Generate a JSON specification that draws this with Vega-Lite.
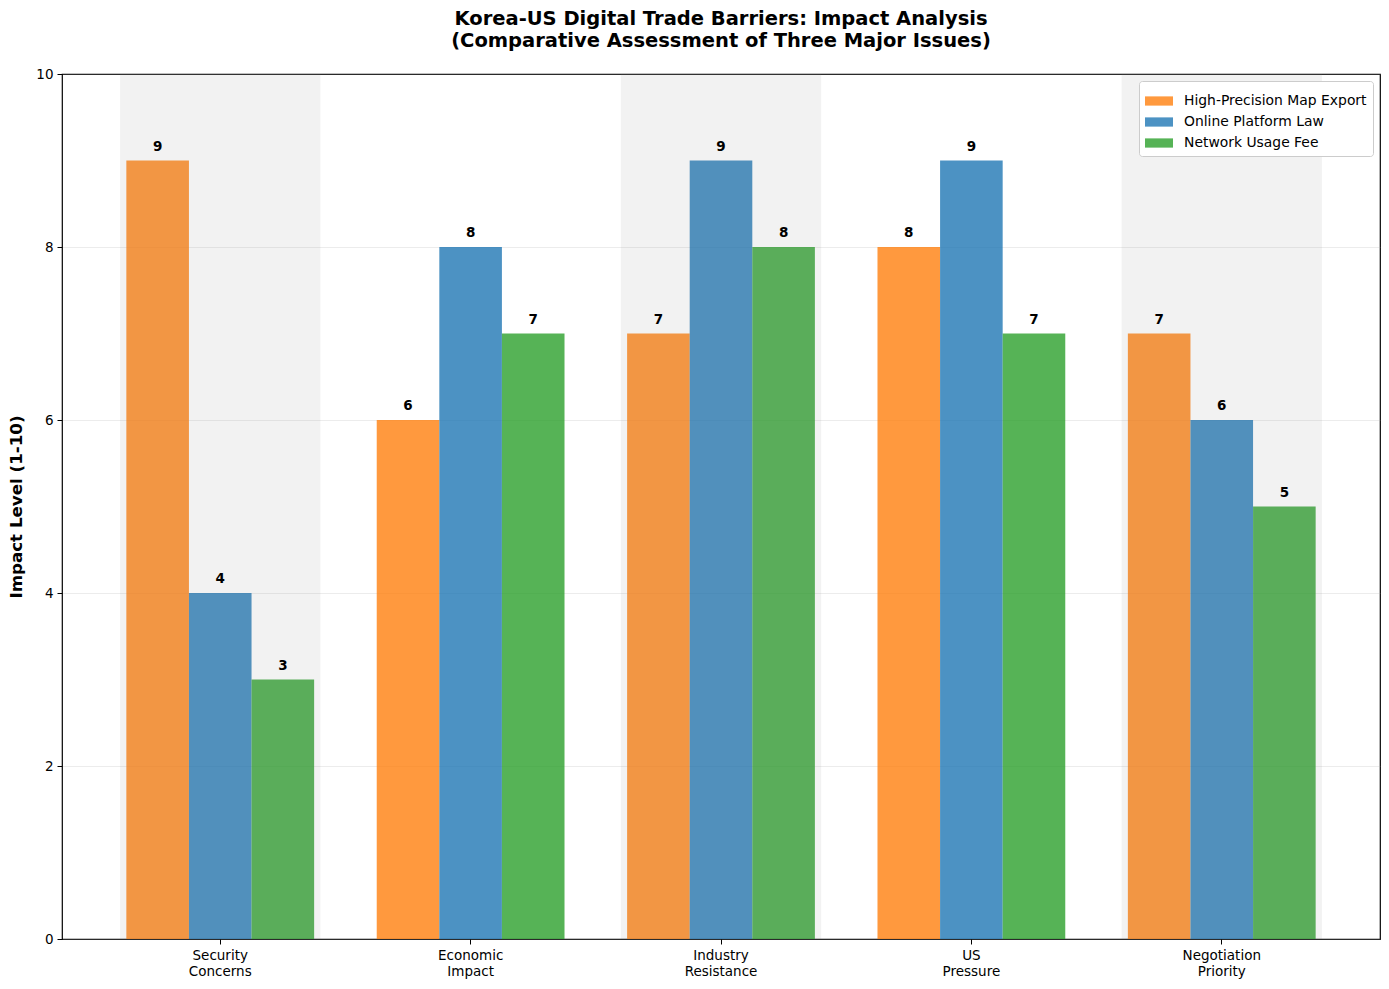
{
  "$schema": "https://vega.github.io/schema/vega-lite/v6.json",
  "autosize": "none",
  "width": 1318,
  "height": 865,
  "padding": {"left": 62, "top": 74, "right": 9, "bottom": 50},
  "background": "white",
  "config": {
    "font": "DejaVu Sans",
    "view": {"stroke": "black", "strokeWidth": 1.2},
    "axis": {"labelFont": "DejaVu Sans", "titleFont": "DejaVu Sans", "labelColor": "black", "tickColor": "black", "domainColor": "black", "titleColor": "black"}
  },
  "title": {
    "text": ["Korea-US Digital Trade Barriers: Impact Analysis", "(Comparative Assessment of Three Major Issues)"],
    "font": "DejaVu Sans",
    "fontSize": 19.5,
    "fontWeight": "bold",
    "lineHeight": 22,
    "offset": 16,
    "color": "black",
    "anchor": "middle"
  },
  "data": {
    "values": [
      {"category": "Security Concerns", "issue": "High-Precision Map Export", "value": 9},
      {"category": "Security Concerns", "issue": "Online Platform Law", "value": 4},
      {"category": "Security Concerns", "issue": "Network Usage Fee", "value": 3},
      {"category": "Economic Impact", "issue": "High-Precision Map Export", "value": 6},
      {"category": "Economic Impact", "issue": "Online Platform Law", "value": 8},
      {"category": "Economic Impact", "issue": "Network Usage Fee", "value": 7},
      {"category": "Industry Resistance", "issue": "High-Precision Map Export", "value": 7},
      {"category": "Industry Resistance", "issue": "Online Platform Law", "value": 9},
      {"category": "Industry Resistance", "issue": "Network Usage Fee", "value": 8},
      {"category": "US Pressure", "issue": "High-Precision Map Export", "value": 8},
      {"category": "US Pressure", "issue": "Online Platform Law", "value": 9},
      {"category": "US Pressure", "issue": "Network Usage Fee", "value": 7},
      {"category": "Negotiation Priority", "issue": "High-Precision Map Export", "value": 7},
      {"category": "Negotiation Priority", "issue": "Online Platform Law", "value": 6},
      {"category": "Negotiation Priority", "issue": "Network Usage Fee", "value": 5}
    ]
  },
  "encoding": {
    "x": {
      "field": "category",
      "type": "nominal",
      "sort": ["Security Concerns", "Economic Impact", "Industry Resistance", "US Pressure", "Negotiation Priority"],
      "scale": {"paddingInner": 0.25, "paddingOuter": 0.257},
      "axis": {
        "title": null,
        "labelAngle": 0,
        "labelExpr": "split(datum.label, ' ')",
        "labelFontSize": 13.5,
        "labelLineHeight": 16,
        "labelPadding": 4,
        "tickSize": 5,
        "domain": false,
        "grid": false
      }
    }
  },
  "layer": [
    {
      "mark": {"type": "bar", "opacity": 0.8},
      "encoding": {
        "xOffset": {"field": "issue", "type": "nominal", "sort": ["High-Precision Map Export", "Online Platform Law", "Network Usage Fee"], "scale": {"paddingInner": 0, "paddingOuter": 0}},
        "y": {
          "field": "value",
          "type": "quantitative",
          "scale": {"domain": [0, 10], "nice": false},
          "axis": {
            "title": "Impact Level (1-10)",
            "titleFontSize": 16.7,
            "titleFontWeight": "bold",
            "titlePadding": 10,
            "values": [0, 2, 4, 6, 8, 10],
            "format": "d",
            "labelFontSize": 13.5,
            "labelPadding": 4,
            "tickSize": 5,
            "domain": false,
            "grid": true,
            "gridColor": "#b0b0b0",
            "gridOpacity": 0.3,
            "gridWidth": 0.8
          }
        },
        "color": {
          "field": "issue",
          "type": "nominal",
          "sort": ["High-Precision Map Export", "Online Platform Law", "Network Usage Fee"],
          "scale": {"range": ["#ff7f0e", "#1f77b4", "#2ca02c"]},
          "legend": {
            "title": null,
            "orient": "top-right",
            "offset": 7,
            "labelFontSize": 13.9,
            "labelFont": "DejaVu Sans",
            "labelColor": "black",
            "labelLimit": 400,
            "symbolType": "M-1,-0.33L1,-0.33L1,0.33L-1,0.33Z",
            "symbolSize": 784,
            "symbolOpacity": 0.8,
            "symbolStrokeWidth": 0,
            "rowPadding": 0,
            "labelOffset": 11,
            "padding": 6,
            "strokeColor": "#cccccc",
            "fillColor": "white",
            "cornerRadius": 3
          }
        }
      }
    },
    {
      "data": {"values": [{"category": "Security Concerns"}, {"category": "Industry Resistance"}, {"category": "Negotiation Priority"}]},
      "mark": {"type": "bar", "color": "gray", "opacity": 0.1, "width": {"band": 1.0667}},
      "encoding": {
        "y": {"datum": 10},
        "y2": {"datum": 0}
      }
    },
    {
      "mark": {"type": "text", "fontWeight": "bold", "fontSize": 13.5, "baseline": "alphabetic", "dy": -10, "color": "black"},
      "encoding": {
        "xOffset": {"field": "issue", "type": "nominal", "sort": ["High-Precision Map Export", "Online Platform Law", "Network Usage Fee"]},
        "y": {"field": "value", "type": "quantitative"},
        "text": {"field": "value", "type": "quantitative"}
      }
    }
  ]
}
